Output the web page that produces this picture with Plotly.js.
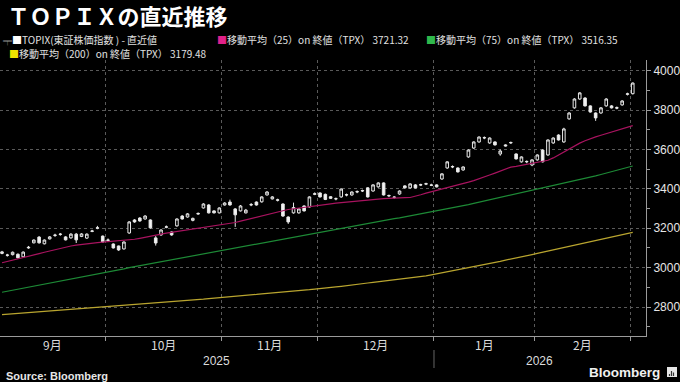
<!DOCTYPE html>
<html><head><meta charset="utf-8">
<script src="https://cdn.plot.ly/plotly-3.0.1.min.js"></script>
<style>html,body{margin:0;padding:0;background:#000;}#chart{width:680px;height:382px;}</style>
</head><body><div id="chart"></div>
<script>
// ---- data ----
const months = ['9月','10月','11月','12月','1月','2月'];
const monthDays = [20,22,18,22,19,18];
const years = ['2025','2026'];
const yearMonthCount = [4, 2];
const yTicks = [2800,3000,3200,3400,3600,3800,4000];

const open = [3072,3064,3066,3068,3055,3100,3126,3155,3121,3146,3163,3168,3156,3151,3170,3158,3150,3184,3200,3160,
3138,3120,3110,3095,3176,3242,3252,3247,3242,3151,3166,3205,3181,3212,3262,3257,3240,3272,3303,3318,3288,3278,
3318,3333,3298,3288,3278,3318,3333,3334,3369,3349,3342,3323,3257,3278,3278,3313,3308,3372,
3379,3372,3360,3349,3359,3369,3369,3384,3389,3405,3389,3410,3430,3364,3356,3374,3415,3405,3420,3419,3424,3420,
3420,3450,3506,3511,3506,3496,3562,3607,3638,3658,3633,3638,3577,3623,3633,3577,3537,3537,3521,
3547,3597,3572,3633,3673,3638,3755,3811,3856,3861,3821,3785,3785,3821,3821,3812,3826,3880,3883];
const high = [3085,3070,3082,3072,3082,3110,3143,3160,3143,3160,3172,3176,3160,3175,3176,3175,3174,3192,3212,3163,
3148,3123,3112,3133,3236,3246,3256,3266,3245,3160,3195,3214,3184,3250,3266,3277,3254,3280,3327,3322,3291,3306,
3332,3345,3302,3318,3298,3328,3336,3362,3388,3363,3350,3326,3260,3330,3302,3316,3362,3382,
3382,3376,3363,3356,3402,3376,3387,3392,3396,3408,3423,3433,3433,3371,3362,3392,3418,3428,3424,3426,3431,3426,
3423,3479,3540,3519,3509,3514,3600,3641,3666,3666,3661,3641,3600,3626,3640,3580,3565,3544,3550,
3575,3600,3651,3661,3677,3710,3789,3860,3891,3865,3824,3788,3815,3860,3825,3818,3850,3888,3940];
const low = [3068,3056,3062,3047,3052,3096,3123,3122,3118,3143,3156,3162,3138,3147,3125,3155,3146,3180,3195,3127,
3130,3097,3085,3092,3172,3228,3233,3244,3198,3112,3162,3200,3162,3208,3244,3254,3235,3268,3300,3275,3275,3275,
3315,3315,3207,3285,3275,3312,3315,3330,3366,3346,3336,3258,3222,3274,3274,3285,3305,3368,
3356,3343,3349,3342,3355,3362,3365,3378,3384,3356,3386,3406,3366,3358,3350,3370,3402,3401,3402,3414,3419,3414,
3407,3446,3502,3505,3483,3492,3558,3603,3634,3652,3629,3620,3568,3615,3628,3549,3533,3530,3515,
3543,3534,3568,3629,3645,3634,3751,3807,3852,3818,3787,3745,3781,3817,3808,3804,3822,3874,3879];
const close = [3080,3063,3078,3050,3079,3103,3140,3126,3140,3156,3165,3170,3141,3170,3141,3171,3170,3186,3202,3130,
3140,3100,3090,3130,3232,3232,3237,3262,3202,3125,3191,3207,3166,3247,3247,3273,3250,3275,3323,3278,3278,3303,
3328,3318,3268,3313,3292,3320,3318,3359,3384,3359,3344,3262,3232,3305,3298,3288,3359,3375,
3359,3346,3352,3350,3399,3370,3384,3386,3391,3359,3420,3430,3369,3366,3358,3389,3405,3425,3405,3421,3426,3418,
3410,3476,3537,3513,3486,3511,3597,3638,3663,3660,3658,3623,3592,3618,3635,3552,3562,3539,3547,
3572,3537,3648,3658,3648,3704,3785,3856,3887,3821,3790,3760,3811,3856,3811,3810,3846,3882,3937];

const ma25 = [3025,3031,3037,3044,3050,3057,3064,3071,3078,3085,3092,3099,3106,3110,3114,3118,3121,3124,3127,3130,
3132,3134,3137,3139,3141,3144,3149,3155,3160,3165,3170,3175,3179,3183,3188,3192,3196,3200,3204,3208,3212,3216,3219,3223,
3229,3236,3243,3250,3256,3262,3268,3275,3282,3289,3295,3299,3303,3307,3311,3315,3318,3321,3324,3327,3330,3333,3336,
3338,3341,3343,3346,3348,3350,3352,3353,3354,3355,3356,3362,3370,3378,3385,3391,3397,3403,3410,3418,3426,3434,3442,3450,
3460,3470,3480,3490,3500,3510,3514,3519,3524,3529,3534,3539,3545,3557,3572,3590,3605,3619,3632,3644,3655,3664,
3672,3680,3688,3697,3705,3713,3721];
const ma75 = [2875,2880,2885,2890,2896,2901,2906,2911,2916,2921,2927,2932,2937,2942,2947,2952,2958,2963,2968,2973,2979,2984,2989,2994,3000,
3005,3010,3016,3021,3026,3031,3036,3042,3047,3052,3057,3062,3067,3072,3078,3083,3088,3093,3098,
3103,3108,3113,3118,3123,3128,
3133,3138,3143,3147,3152,3157,3162,3167,3172,3176,3181,3186,3191,3196,3200,3205,3210,3215,3220,3225,3229,3234,3239,3244,3249,3253,3258,3263,3268,3273,3278,3282,3287,3292,3297,3302,
3308,3314,3320,3326,3332,3338,3344,3350,3356,3362,3368,3374,3380,3386,3391,3397,3403,3409,3415,3421,3427,3433,3439,3445,
3452,3459,3466,3473,3480,3487,3495,3502,3509,3516];
const ma200 = [2762,2764,2766,2768,2770,2772,2774,2775,2777,2779,2781,2783,2785,2787,2789,2791,2793,2795,2796,2798,2800,
2802,2804,2807,2809,2811,2813,2816,2818,2820,2822,2825,2827,2829,2831,2834,2836,2838,2840,2843,2845,
2847,2850,2852,2855,2857,2860,2862,2864,2867,2869,2872,2874,2876,2879,2881,2884,2886,2888,2891,2893,
2896,2899,2902,2905,2909,2912,2915,2918,2922,2925,2928,2932,2935,2938,2941,2945,2948,2951,2955,2958,
2963,2968,2973,2978,2983,2988,2993,2999,3004,3010,3015,3021,3027,3032,3038,3043,3049,3054,3060,3066,
3072,3078,3084,3090,3096,3102,3108,3114,3120,3126,3132,3138,3144,3150,3156,3161,3167,3173,3179];

const legendItems = [
  {label:'移動平均（25）on 終値（TPX）', value:'3721.32', swatch:'#e0218a'},
  {label:'移動平均（75）on 終値（TPX）', value:'3516.35', swatch:'#2fb84c'},
  {label:'移動平均（200）on 終値（TPX）', value:'3179.48', swatch:'#f0e400'}
];
const mainLabel = 'TOPIX(東証株価指数 ) - 直近値';

// ---- geometry helpers ----
const PLOT_L = 0, PLOT_R = 646, PLOT_T = 60, PLOT_B = 336;
const py = p => (PLOT_B - p) / (PLOT_B - PLOT_T);
const px = p => (p - PLOT_L) / (PLOT_R - PLOT_L);
const xRange = [-0.38, 121.5];

const xs = open.map((_, i) => i);
const maX = arr => arr.map((_, i) => i);

// month boundaries
const bounds = [];
let acc = 0;
const centers = [];
monthDays.forEach(d => { const s = acc - 0.5; acc += d; const e = acc - 0.5; bounds.push(e); centers.push((s + e) / 2); });

const jp = 'Noto Sans CJK JP, Noto Sans, sans-serif';
const annotations = [];
months.forEach((m, k) => annotations.push({xref:'x', yref:'paper', x:centers[k], y:py(344), text:m, showarrow:false,
  xanchor:'center', yanchor:'middle', font:{family:jp, size:12, color:'#dcdcdc'}}));
// year labels
let mIdx = 0; const yearDiv = [];
years.forEach((yr, k) => {
  const start = mIdx === 0 ? -0.5 : bounds[mIdx - 1];
  mIdx += yearMonthCount[k];
  const end = k === years.length - 1 ? xRange[1] : bounds[mIdx - 1];
  if (k < years.length - 1) yearDiv.push(bounds[mIdx - 1]);
  annotations.push({xref:'x', yref:'paper', x:(start + end) / 2, y:py(361), text:yr, showarrow:false,
    xanchor:'center', yanchor:'middle', font:{family:'Liberation Sans, sans-serif', size:12, color:'#dcdcdc'}});
});
// legend
annotations.push({xref:'paper', yref:'paper', x:px(2), y:py(40), xanchor:'left', yanchor:'middle', showarrow:false, borderpad:0,
  text:'<span style="color:#9a9a9a;font-size:9px">╤</span><span style="color:#ffffff">■</span>' + mainLabel,
  font:{family:jp, size:10, color:'#e0e0e0'}});
const legPos = [[216, 40], [425, 40], [8, 53]];
legendItems.forEach((it, k) => annotations.push({xref:'paper', yref:'paper', x:px(legPos[k][0]), y:py(legPos[k][1]),
  xanchor:'left', yanchor:'middle', showarrow:false, borderpad:0,
  text:'<span style="color:' + it.swatch + '">■</span>' + it.label + ' ' + it.value,
  font:{family:jp, size:10, color:'#e0e0e0'}}));
// source + logo
annotations.push({xref:'paper', yref:'paper', x:px(4), y:py(376), xanchor:'left', yanchor:'middle', showarrow:false,
  text:'<b>Source: Bloomberg</b>', font:{family:'Liberation Sans, sans-serif', size:11, color:'#e6e6e6'}});
annotations.push({xref:'paper', yref:'paper', x:px(662), y:py(372), xanchor:'right', yanchor:'middle', showarrow:false,
  text:'<b>Bloomberg</b>', font:{family:'Liberation Sans, sans-serif', size:13.5, color:'#f0f0f0'}});

const shapes = [];
yearDiv.forEach(v => shapes.push({type:'line', xref:'x', yref:'paper', x0:v, x1:v, y0:py(350), y1:py(368),
  line:{color:'#666', width:1}}));
shapes.push({type:'rect', xref:'paper', yref:'paper', x0:px(667), x1:px(677), y0:py(377), y1:py(367),
  fillcolor:'#e6e6e6', line:{width:0}});
[[669.5,374],[671.5,371],[673.5,372.5]].forEach(b => shapes.push({type:'line', xref:'paper', yref:'paper',
  x0:px(b[0]), x1:px(b[0]), y0:py(376), y1:py(b[1]), line:{color:'#333', width:1.2}}));

const traces = [
  {type:'candlestick', x:xs, open:open, high:high, low:low, close:close, whiskerwidth:0, hoverinfo:'skip',
   increasing:{line:{color:'#e8e8e8', width:1}, fillcolor:'#000000'},
   decreasing:{line:{color:'#e8e8e8', width:1}, fillcolor:'#f4f4f4'}},
  {type:'scatter', mode:'lines', x:maX(ma25), y:ma25, line:{color:'#a8135f', width:1.2}, hoverinfo:'skip'},
  {type:'scatter', mode:'lines', x:maX(ma75), y:ma75, line:{color:'#1d8a36', width:1.2}, hoverinfo:'skip'},
  {type:'scatter', mode:'lines', x:maX(ma200), y:ma200, line:{color:'#b9a52f', width:1.2}, hoverinfo:'skip'}
];

const layout = {
  width:680, height:382,
  paper_bgcolor:'#000', plot_bgcolor:'#000',
  margin:{l:PLOT_L, r:680 - PLOT_R, t:PLOT_T, b:382 - PLOT_B, pad:0},
  showlegend:false,
  font:{family:jp, color:'#dcdcdc', size:11},
  title:{text:'ＴＯＰＩＸの直近推移', x:0.011, xanchor:'left', y:1 - 17/382, yanchor:'middle', xref:'container',
    font:{family:jp, size:22, color:'#ffffff', weight:'bold'}},
  xaxis:{type:'linear', range:xRange, tickvals:bounds, ticktext:bounds.map(() => ''), ticks:'outside', ticklen:4,
    tickcolor:'#999', showgrid:true, gridcolor:'#5a5a5a', griddash:'dot', gridwidth:1, showline:true, linecolor:'#9a9a9a',
    linewidth:1, zeroline:false, rangeslider:{visible:false}, fixedrange:true},
  yaxis:{side:'right', range:[2653, 4054], tickvals:yTicks, ticks:'outside', ticklen:4, tickcolor:'#9a9a9a',
    showline:true, linecolor:'#9a9a9a', linewidth:1, showgrid:true, gridcolor:'#5a5a5a', griddash:'dot', zeroline:false,
    tickfont:{family:'Liberation Sans, sans-serif', size:12, color:'#e6e6e6'},
    minor:{dtick:100, tick0:0, ticks:'outside', ticklen:3, tickcolor:'#9a9a9a', showgrid:false}, fixedrange:true},
  annotations:annotations, shapes:shapes
};
Plotly.newPlot('chart', traces, layout, {displayModeBar:false, staticPlot:true});
</script></body></html>
